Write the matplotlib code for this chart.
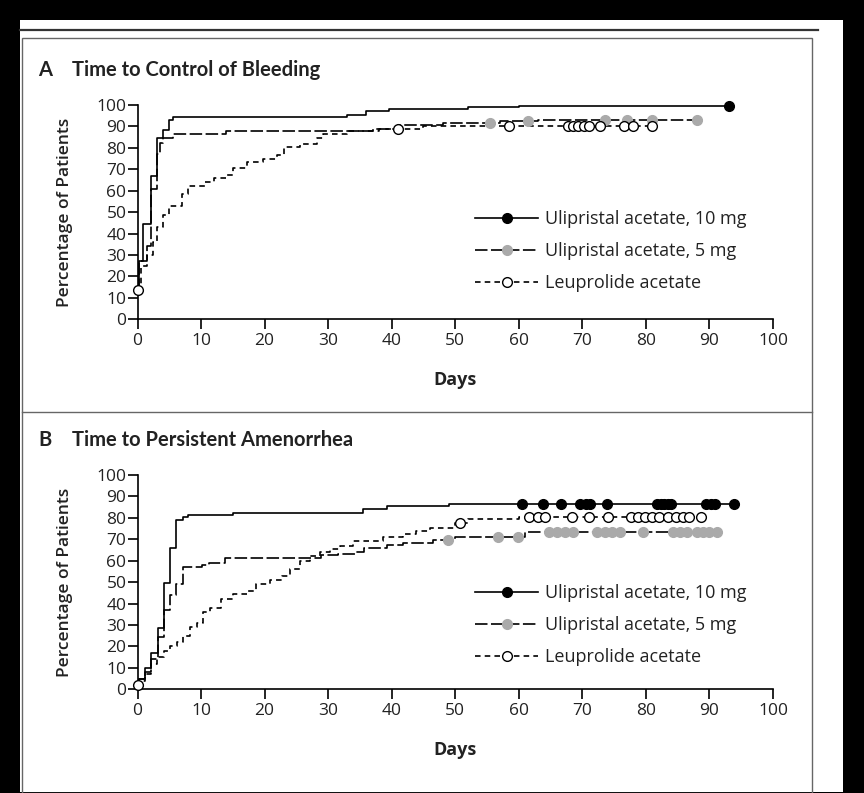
import numpy as np
import matplotlib
matplotlib.use("Agg")
import matplotlib.pyplot as plt
from matplotlib.lines import Line2D
from matplotlib.patches import Rectangle

# Panel A: time to control of bleeding (step points, then censored days)
a_ul10_days = [0, 0.2, 0.9, 2.2, 3.0, 4.0, 5.0, 5.6, 32.9, 36.0, 39.5, 52.0, 60.0]
a_ul10_pct = [13.5, 27, 44.5, 67, 84.5, 88.5, 93, 94.3, 95.3, 97, 98, 99, 99.5]
a_ul10_cens = [93]

a_ul5_days = [0, 0.3, 1.5, 2.2, 3.0, 3.5, 4.0, 5.6, 14.0, 37.0, 41.0, 48.0, 57.0, 63.0]
a_ul5_pct = [13.5, 27, 34, 61, 77, 82.5, 84.5, 86.5, 88, 89, 90.5, 91.5, 92.5, 93]
a_ul5_cens = [55.5, 61.5, 73.5, 77, 81, 88]

a_leu_days = [0, 0.5, 1.5, 2.5, 3.0, 4.0, 5.0, 7.0, 8.0, 10.6, 12.0, 14.0, 15.1,
              17.2, 19.8, 21.9, 23.0, 25.6, 28.2, 29.2, 32.9, 38.0, 45.0]
a_leu_pct = [13.5, 25, 30, 36, 43, 48.5, 53, 58.5, 62, 64, 66, 67.5, 70.5,
             73.5, 75, 76.5, 80.5, 82, 84.5, 86.5, 88, 89, 90]
a_leu_cens = [0, 41, 58.5, 67.7, 68.5, 69.3, 70.2, 71.1, 72.7, 76.5, 78, 81]

# Panel B: time to persistent amenorrhea
b_ul10_days = [0, 0.3, 1.2, 2.2, 3.3, 4.1, 5.1, 6.0, 7.2, 8.0, 15.1, 35.5, 39.2, 49.0]
b_ul10_pct = [2, 5, 10, 17, 28.5, 49.5, 66, 79, 80.5, 81.3, 82.1, 84.1, 85.5, 86.5]
b_ul10_cens = [60.5, 63.8, 66.7, 69.7, 70.5, 71.2, 73.9, 81.7, 82.3, 82.8, 83.4,
               84.0, 89.5, 90.2, 90.8, 93.8]

b_ul5_days = [0, 0.3, 1.2, 2.2, 3.3, 4.1, 5.1, 6.0, 7.2, 10.2, 11.3, 13.8, 28.8,
              31.6, 34.2, 35.7, 39.2, 41.8, 46.5, 50.0, 61.0]
b_ul5_pct = [2, 5, 8, 14, 24.5, 37, 44, 49, 57, 58, 59, 61.5, 62.7,
             63.2, 64.2, 66, 67.3, 68.4, 69.7, 71, 73.5]
b_ul5_cens = [48.8, 56.7, 59.8, 64.8, 66, 67.3, 68.5, 72.3, 73.5, 74.7, 75.9,
              79.5, 84.2, 85.3, 86.4, 88, 89, 90, 91.2]

b_leu_days = [0, 0.4, 1.2, 2.2, 3.0, 4.1, 5.1, 6.2, 7.2, 8.3, 9.3, 10.3, 11.4,
              13.2, 15.1, 17.2, 18.7, 20.8, 22.7, 24.0, 25.5, 27.1, 28.7, 30.3,
              31.8, 33.9, 38.6, 41.8, 43.9, 46.0, 50.0, 52.0, 60.0]
b_leu_pct = [2, 4, 7, 12, 15, 18, 20, 22, 25, 29, 31, 36, 38,
             42, 44.5, 46, 49, 51, 53, 56, 60, 62, 64, 65.5,
             67, 69, 71, 72.5, 74, 75.5, 77.5, 79.5, 80.5]
b_leu_cens = [0, 50.8, 61.6, 63, 64.1, 68.3, 71.1, 74.1, 77.6, 78.7, 79.8, 80.9,
              82, 83.4, 84.8, 85.8, 86.8, 88.7]

labels = ["Ulipristal acetate, 10 mg", "Ulipristal acetate, 5 mg", "Leuprolide acetate"]
ticks = [0, 10, 20, 30, 40, 50, 60, 70, 80, 90, 100]

plt.rcParams['font.family'] = ['Open Sans', 'DejaVu Sans']
plt.rcParams['lines.scale_dashes'] = False

W, H = 864, 793
ink = '#222222'
gray_mk = '#aaaaaa'

# line style per arm: (linestyle, marker face, marker edge)
styles = [
    ('-', 'black', 'black'),
    ((0, (9, 2.5)), gray_mk, gray_mk),
    ((0, (4, 3)), 'white', 'black'),
]


def px(x, y):
    return x / W, 1 - y / H


def step_value(days, pct, d):
    i = np.searchsorted(days, d, side='right') - 1
    return pct[max(i, 0)]


def draw_arm(ax, days, pct, cens, style):
    ls, mfc, mec = style
    end = max(days[-1], max(cens))
    xs = list(days) + [end]
    ys = list(pct) + [pct[-1]]
    ax.step(xs, ys, where='post', color='black', lw=1.2, ls=ls, zorder=2,
            clip_on=False)
    cy = [step_value(days, pct, c) for c in cens]
    ax.plot(cens, cy, ls='none', marker='o', ms=7, mfc=mfc, mec=mec,
            mew=1.0, zorder=3, clip_on=False)


fig = plt.figure(figsize=(W / 100, H / 100), dpi=100)
fig.patch.set_facecolor('black')

# white page, rules and frame (kept behind the axes)
fig.add_artist(Rectangle(px(20, 792), 823 / W, 772 / H, transform=fig.transFigure,
                         facecolor='white', edgecolor='none', zorder=-10))
fig.add_artist(Line2D([20 / W, 818 / W], [px(0, 30)[1]] * 2, color='#333333',
                      lw=1.6, zorder=-5))
fig.add_artist(Rectangle(px(22, 793), 790 / W, 755 / H, transform=fig.transFigure,
                         facecolor='none', edgecolor='#666666', lw=1.0, zorder=-5))
fig.add_artist(Line2D([22 / W, 812 / W], [px(0, 412)[1]] * 2, color='#666666',
                      lw=1.0, zorder=-5))

panels = [
    ("A", "Time to Control of Bleeding", 70, 319.3,
     [(a_ul10_days, a_ul10_pct, a_ul10_cens),
      (a_ul5_days, a_ul5_pct, a_ul5_cens),
      (a_leu_days, a_leu_pct, a_leu_cens)], 0.319),
    ("B", "Time to Persistent Amenorrhea", 440, 689.3,
     [(b_ul10_days, b_ul10_pct, b_ul10_cens),
      (b_ul5_days, b_ul5_pct, b_ul5_cens),
      (b_leu_days, b_leu_pct, b_leu_cens)], 0.300),
]

for letter, title, ty, zero_y, arms, leg_y in panels:
    ax = fig.add_axes([137.5 / W, 1 - zero_y / H, 635.5 / W, 214.3 / H])
    ax.set_facecolor('none')
    for (d, p, c), st in zip(arms, styles):
        draw_arm(ax, d, p, c, st)
    ax.set_xlim(0, 100)
    ax.set_ylim(0, 100)
    ax.set_xticks(ticks)
    ax.set_yticks(ticks)
    ax.spines['top'].set_visible(False)
    ax.spines['right'].set_visible(False)
    for s in ('left', 'bottom'):
        ax.spines[s].set_linewidth(1.2)
    ax.tick_params(direction='out', length=7, width=1.2, labelsize=12.5,
                   labelcolor=ink, pad=1)
    ax.tick_params(axis='x', pad=3)
    ax.set_xlabel("Days", fontsize=13, fontweight='bold', color=ink, labelpad=16)
    ax.set_ylabel("Percentage of Patients", fontsize=12.5, fontweight='semibold',
                  color=ink, labelpad=17)

    handles = [Line2D([], [], color='black', lw=1.2, ls=st[0], marker='o', ms=7,
                      mfc=st[1], mec=st[2]) for st in styles]
    ax.legend(handles, labels, loc='center left', bbox_to_anchor=(0.531, leg_y),
              frameon=False, fontsize=13, handlelength=3.5, handletextpad=0.4,
              labelspacing=0.78, borderpad=0, borderaxespad=0, labelcolor=ink)

    fig.text(*px(38, ty), letter, fontsize=14.5, fontweight='bold', color=ink,
             va='center', family=['Lato', 'DejaVu Sans'])
    fig.text(*px(72, ty), title, fontsize=14.5, fontweight='bold', color=ink,
             va='center', family=['Lato', 'DejaVu Sans'])

fig.savefig("out.png", dpi=100, facecolor=fig.get_facecolor())
